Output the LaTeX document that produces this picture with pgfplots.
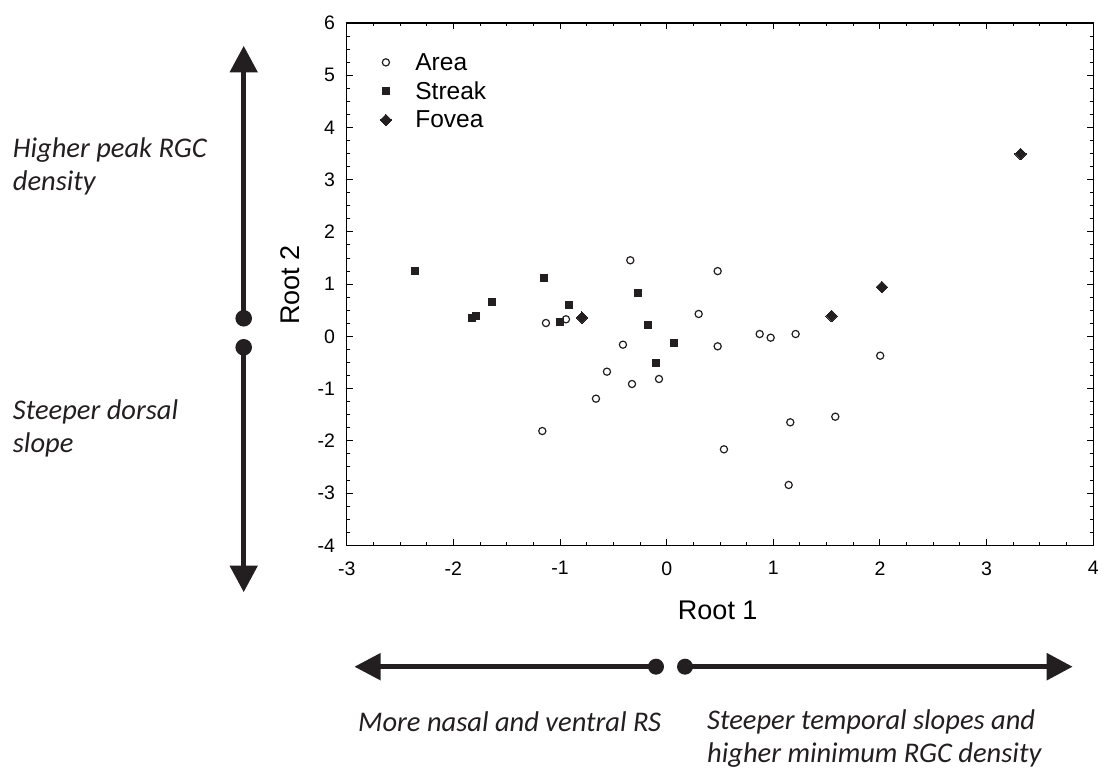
\documentclass[border=0pt]{standalone}
\usepackage{pgfplots}
\pgfplotsset{compat=1.18}
\usepackage{fontspec}
\setmainfont{Liberation Sans}
\newfontfamily\calibri{Carlito}
\usetikzlibrary{arrows.meta}
\definecolor{ink}{HTML}{231F20}
\begin{document}
\begin{tikzpicture}[x=1pt,y=1pt]
\path[use as bounding box] (0,0) rectangle (1105,770);
\begin{axis}[
  at={(346.7pt,224.7pt)}, anchor=south west,
  scale only axis, width=746.6pt, height=522.3pt,
  xmin=-3, xmax=4, ymin=-4, ymax=6,
  xtick={-3,-2,-1,0,1,2,3,4}, ytick={-4,-3,-2,-1,0,1,2,3,4,5,6},
  minor tick num=3,
  tick align=inside,
  major tick length=6pt, minor tick length=3.5pt,
  axis line style={line width=1.3pt, black},
  every tick/.style={line width=1pt, black},
  /pgf/number format/assume math mode=true,
  ticklabel style={font=\fontsize{19.5}{23}\selectfont, inner sep=0pt},
  yticklabel style={xshift=-11.5pt},
  xticklabel style={yshift=-16pt},
  xlabel={Root 1}, ylabel={Root 2},
  label style={font=\fontsize{27}{32}\selectfont},
  xlabel style={at={(axis description cs:0.497,-0.124)}, anchor=center},
  ylabel style={at={(axis description cs:-0.076,0.498)}, anchor=center},
  legend style={at={(axis description cs:0,1)}, anchor=north west,
    xshift=27pt, yshift=-26pt, draw=none, fill=none,
    font=\fontsize{24.5}{29}\selectfont, row sep=6pt,
    /tikz/every odd column/.append style={column sep=18.5pt}},
  legend cell align=left,
  legend image code/.code={\path[draw=none,fill=none] (0pt,-4pt) rectangle (18pt,4pt);
    \draw[#1] plot[only marks] coordinates {(9pt,0pt)};},
]
\addplot[only marks, mark=*, mark size=3.6pt, mark options={fill=white, draw=ink, line width=1.2pt}]
coordinates {
(-0.341,1.457) (0.478,1.25) (-1.132,0.256) (-0.944,0.327) (0.30,0.429)
(-0.41,-0.159) (0.478,-0.19) (-0.56,-0.676) (-0.325,-0.912) (-0.072,-0.816)
(-0.663,-1.193) (-1.166,-1.812) (0.872,0.045) (0.975,-0.025) (1.209,0.045)
(2.002,-0.37) (1.159,-1.645) (1.581,-1.538) (0.537,-2.162) (1.144,-2.845)
};
\addlegendentry{Area}
\addplot[only marks, mark=square*, mark size=3.6pt, mark options={fill=ink, draw=ink, line width=0pt}]
coordinates {
(-2.36,1.25) (-1.825,0.358) (-1.788,0.39) (-1.638,0.658) (-1.15,1.118)
(-1.0,0.281) (-0.916,0.60) (-0.272,0.836) (-0.175,0.223) (0.066,-0.127)
(-0.103,-0.504)
};
\addlegendentry{Streak}
\addplot[only marks, mark=square*, mark size=4.1pt, mark options={fill=ink, draw=ink, line width=0pt, rotate=45}]
coordinates {
(-0.794,0.358) (1.547,0.39) (2.018,0.945) (3.319,3.492)
};
\addlegendentry{Fovea}
\end{axis}
% annotation arrows
\begin{scope}[ink, line width=5.5pt]
\draw[-{Triangle[length=26.6pt,width=26.7pt]}] (243.7,451.7) -- (243.7,724.3);
\draw[-{Triangle[length=26.6pt,width=26.7pt]}] (243.7,422.7) -- (243.7,177.7);
\draw[-{Triangle[length=26.4pt,width=26pt]}] (656,103.3) -- (354.3,103.3);
\draw[-{Triangle[length=26pt,width=26pt]}] (685,103.3) -- (1072.7,103.3);
\fill (243.7,451.7) circle (8.3);
\fill (243.7,422.7) circle (8.3);
\fill (656,103.3) circle (8);
\fill (685,103.3) circle (8);
\end{scope}
\begin{scope}[every node/.style={anchor=base west, inner sep=0pt, text=ink, font=\calibri\itshape\fontsize{28.5}{34}\selectfont}]
\node at (12.7,612.3) {Higher peak RGC};
\node at (12.7,579) {density};
\node at (12.7,350) {Steeper dorsal};
\node at (12.7,317) {slope};
\node at (358,38) {More nasal and ventral RS};
\node at (707,40) {Steeper temporal slopes and};
\node at (707,7) {higher minimum RGC density};
\end{scope}
\end{tikzpicture}
\end{document}
